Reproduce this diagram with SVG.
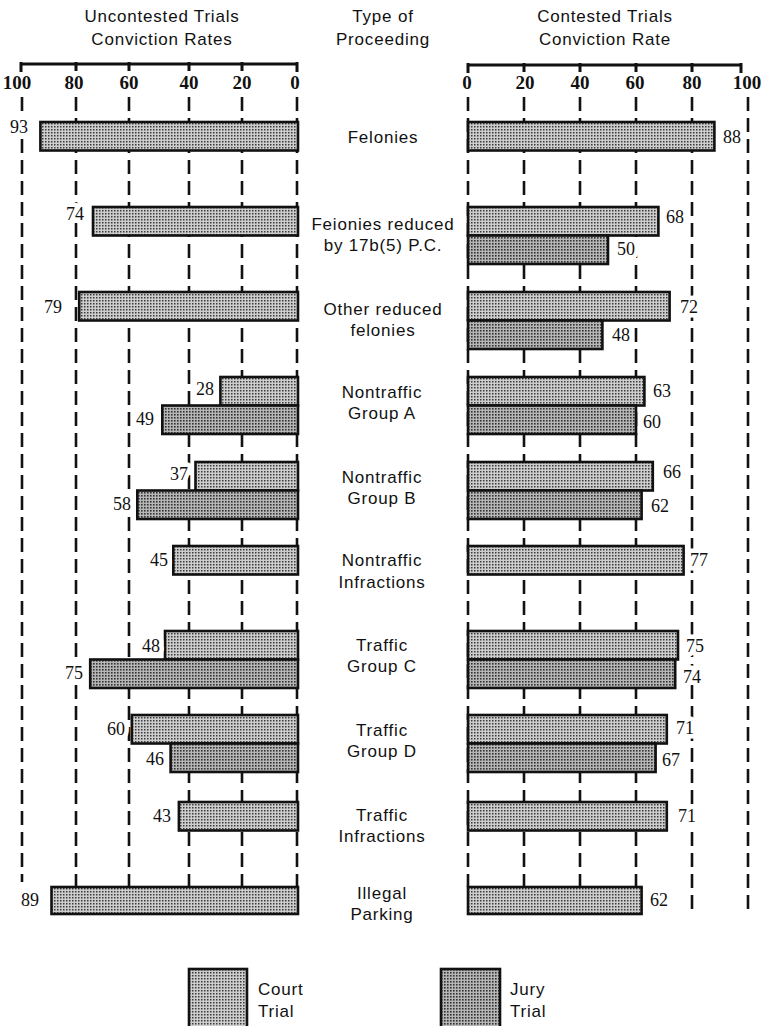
<svg xmlns="http://www.w3.org/2000/svg" width="763" height="1026" viewBox="0 0 763 1026">
<defs>
<pattern id="court" width="3" height="3" patternUnits="userSpaceOnUse"><rect width="3" height="3" fill="#cdcdcd"/><rect width="1.5" height="1.5" fill="#3a3a3a"/></pattern>
<pattern id="jury" width="3" height="3" patternUnits="userSpaceOnUse"><rect width="3" height="3" fill="#b6b6b6"/><rect width="1.6" height="1.6" fill="#333"/></pattern>
<style>
.grid{stroke:#111;stroke-width:2.6;stroke-dasharray:14 7;fill:none}
.axis{stroke:#111;stroke-width:3;fill:none}
.c{fill:url(#court);stroke:#111;stroke-width:2.6}
.j{fill:url(#jury);stroke:#111;stroke-width:2.6}
.lbl{font-family:"Liberation Sans",Arial,sans-serif;font-size:17px;letter-spacing:0.8px;fill:#111;text-anchor:middle}
.leg{font-family:"Liberation Sans",Arial,sans-serif;font-size:17px;letter-spacing:0.8px;fill:#111}
.tick{font-family:"Liberation Serif","Times New Roman",serif;font-size:19px;font-weight:bold;fill:#111;text-anchor:middle}
.num{font-family:"Liberation Serif","Times New Roman",serif;font-size:18px;fill:#111;stroke:#fff;stroke-width:9;paint-order:stroke;stroke-linejoin:round}
.l{text-anchor:end}
.r{text-anchor:start}
</style>
</defs>
<rect width="763" height="1026" fill="#fff"/>

<g id="headers">
<text class="lbl" x="162" y="22">Uncontested Trials</text>
<text class="lbl" x="162" y="45">Conviction Rates</text>
<text class="lbl" x="383" y="22">Type of</text>
<text class="lbl" x="383" y="45">Proceeding</text>
<text class="lbl" x="605" y="22">Contested Trials</text>
<text class="lbl" x="605" y="45">Conviction Rate</text>
</g>

<g id="left-axis">
<path class="axis" d="M21,64 H298 M21,62 V72 M76,62 V71 M129,62 V71 M189,62 V71 M242,62 V71 M297,62 V72"/>
<text class="tick" x="17" y="89">100</text>
<text class="tick" x="74" y="89">80</text>
<text class="tick" x="129" y="89">60</text>
<text class="tick" x="189" y="89">40</text>
<text class="tick" x="242" y="89">20</text>
<text class="tick" x="295" y="89">0</text>
</g>
<g id="right-axis">
<path class="axis" d="M467,65 H742 M468,63 V73 M524,63 V72 M580,63 V72 M636,63 V72 M692,63 V72 M741,63 V73"/>
<text class="tick" x="467" y="89">0</text>
<text class="tick" x="525" y="89">20</text>
<text class="tick" x="580" y="89">40</text>
<text class="tick" x="635" y="89">60</text>
<text class="tick" x="692" y="89">80</text>
<text class="tick" x="747" y="89">100</text>
</g>

<g id="gridlines">
<path class="grid" d="M22,97 V882 M76,97 V887 M129,97 V887 M189,97 V887 M242,97 V887 M297,97 V887"/>
<path class="grid" d="M468,97 V887 M524,97 V887 M580,97 V887 M636,97 V887 M692,97 V915 M748,97 V915"/>
</g>

<g id="felonies">
<rect class="c" x="40.4" y="122" width="257.6" height="28.5"/>
<rect class="c" x="468" y="122" width="246.4" height="28.5"/>
<text class="lbl" x="383" y="143">Felonies</text>
<text class="num l" x="28" y="133">93</text>
<text class="num r" x="723" y="143">88</text>
</g>

<g id="felonies-reduced">
<rect class="c" x="93" y="207" width="205" height="28.5"/>
<rect class="c" x="468" y="207" width="190.4" height="28.5"/>
<rect class="j" x="468" y="235.5" width="140" height="28.5"/>
<text class="lbl" x="383" y="230">Feionies reduced</text>
<text class="lbl" x="383" y="251">by 17b(5) P.C.</text>
<text class="num l" x="84" y="220">74</text>
<text class="num r" x="666" y="223">68</text>
<text class="num r" x="617" y="255">50</text>
</g>

<g id="other-reduced">
<rect class="c" x="79.2" y="292" width="218.8" height="28.5"/>
<rect class="c" x="468" y="292" width="201.6" height="28.5"/>
<rect class="j" x="468" y="320.5" width="134.4" height="28.5"/>
<text class="lbl" x="383" y="315">Other reduced</text>
<text class="lbl" x="383" y="336">felonies</text>
<text class="num l" x="62" y="313">79</text>
<text class="num r" x="680" y="313">72</text>
<text class="num r" x="612" y="341">48</text>
</g>

<g id="nontraffic-a">
<rect class="c" x="220.4" y="377" width="77.6" height="28.5"/>
<rect class="j" x="162.3" y="405.5" width="135.7" height="28.5"/>
<rect class="c" x="468" y="377" width="176.4" height="28.5"/>
<rect class="j" x="468" y="405.5" width="168" height="28.5"/>
<text class="lbl" x="382" y="398">Nontraffic</text>
<text class="lbl" x="382" y="419">Group A</text>
<text class="num l" x="214" y="395">28</text>
<text class="num l" x="154" y="425">49</text>
<text class="num r" x="653" y="397">63</text>
<text class="num r" x="643" y="428">60</text>
</g>

<g id="nontraffic-b">
<rect class="c" x="195.5" y="462" width="102.5" height="28.5"/>
<rect class="j" x="137.3" y="490.5" width="160.7" height="28.5"/>
<rect class="c" x="468" y="462" width="184.8" height="28.5"/>
<rect class="j" x="468" y="490.5" width="173.6" height="28.5"/>
<text class="lbl" x="382" y="483">Nontraffic</text>
<text class="lbl" x="382" y="504">Group B</text>
<text class="num l" x="188" y="480">37</text>
<text class="num l" x="131" y="510">58</text>
<text class="num r" x="663" y="478">66</text>
<text class="num r" x="651" y="512">62</text>
</g>

<g id="nontraffic-infractions">
<rect class="c" x="173.3" y="546" width="124.7" height="28.5"/>
<rect class="c" x="468" y="546" width="215.6" height="28.5"/>
<text class="lbl" x="382" y="566">Nontraffic</text>
<text class="lbl" x="382" y="588">Infractions</text>
<text class="num l" x="168" y="566">45</text>
<text class="num r" x="690" y="566">77</text>
</g>

<g id="traffic-c">
<rect class="c" x="165" y="631" width="133" height="28.5"/>
<rect class="j" x="90.2" y="659.5" width="207.8" height="28.5"/>
<rect class="c" x="468" y="631" width="210" height="28.5"/>
<rect class="j" x="468" y="659.5" width="207.2" height="28.5"/>
<text class="lbl" x="382" y="651">Traffic</text>
<text class="lbl" x="382" y="672">Group C</text>
<text class="num l" x="160" y="652">48</text>
<text class="num l" x="83" y="679">75</text>
<text class="num r" x="686" y="652">75</text>
<text class="num r" x="683" y="683">74</text>
</g>

<g id="traffic-d">
<rect class="c" x="131.8" y="715" width="166.2" height="28.5"/>
<rect class="j" x="170.6" y="743.5" width="127.4" height="28.5"/>
<rect class="c" x="468" y="715" width="198.8" height="28.5"/>
<rect class="j" x="468" y="743.5" width="187.6" height="28.5"/>
<text class="lbl" x="382" y="736">Traffic</text>
<text class="lbl" x="382" y="757">Group D</text>
<text class="num l" x="125" y="735">60</text>
<text class="num l" x="164" y="765">46</text>
<text class="num r" x="676" y="734">71</text>
<text class="num r" x="662" y="766">67</text>
</g>

<g id="traffic-infractions">
<rect class="c" x="178.9" y="802" width="119.1" height="28.5"/>
<rect class="c" x="468" y="802" width="198.8" height="28.5"/>
<text class="lbl" x="382" y="821">Traffic</text>
<text class="lbl" x="382" y="842">Infractions</text>
<text class="num l" x="171" y="822">43</text>
<text class="num r" x="678" y="822">71</text>
</g>

<g id="illegal-parking">
<rect class="c" x="51.5" y="887" width="246.5" height="27"/>
<rect class="c" x="468" y="887" width="173.6" height="27"/>
<text class="lbl" x="382" y="899">Illegal</text>
<text class="lbl" x="382" y="920">Parking</text>
<text class="num l" x="39" y="906">89</text>
<text class="num r" x="650" y="906">62</text>
</g>

<g id="legend">
<rect class="c" x="189" y="969" width="58" height="62"/>
<text class="leg" x="258" y="995">Court</text>
<text class="leg" x="258" y="1017">Trial</text>
<rect class="j" x="441" y="969" width="59" height="62"/>
<text class="leg" x="510" y="995">Jury</text>
<text class="leg" x="510" y="1017">Trial</text>
</g>
</svg>
